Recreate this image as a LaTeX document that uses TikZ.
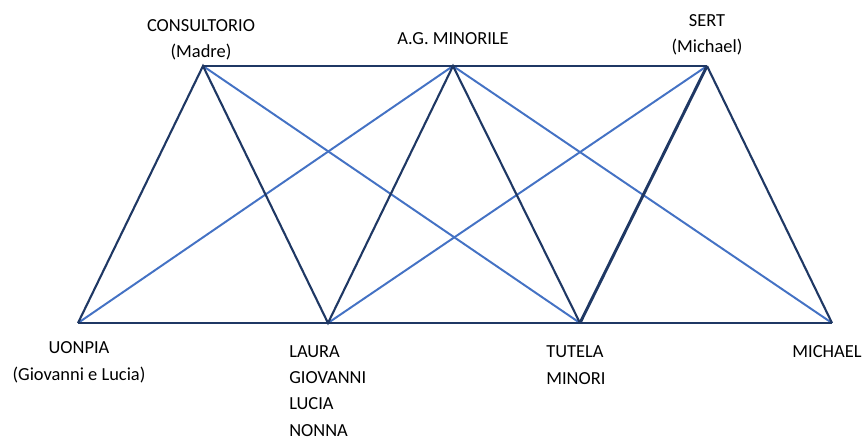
\documentclass[tikz,border=0pt]{standalone}
\usepackage{fontspec}
\setmainfont{Carlito}
\usetikzlibrary{positioning}
\definecolor{navy}{HTML}{1F3864}
\definecolor{sky}{HTML}{4472C4}

\begin{document}
\begin{tikzpicture}[
  x=0.025cm, y=-0.025cm,
  side/.style={line width=1.5pt, color=navy},
  diag/.style={line width=1.4pt, color=sky},
  lbl/.style={font=\fontsize{13.1}{18.6}\selectfont, inner sep=0pt, align=center, anchor=base},
]
\useasboundingbox (0,0) rectangle (863,440);

% services on top, family and offices below
\coordinate (consultorio) at (203,66);
\coordinate (agminorile) at (453,66);
\coordinate (sert) at (707,66);
\coordinate (uonpia) at (78,323);
\coordinate (laura) at (328,323);
\coordinate (tutela) at (580,323);
\coordinate (michael) at (832,323);

% labels sit on the baseline of their last line
\node[lbl] (consultorio-t) at (201,58) {CONSULTORIO\\(Madre)};
\node[lbl] (agminorile-t) at (453,45) {A.G. MINORILE};
\node[lbl] (sert-t) at (707,53) {SERT\\(Michael)};
\node[lbl] (uonpia-t) at (79,380) {UONPIA\\(Giovanni e Lucia)};
\node[lbl, align=left, anchor=base west] (laura-t) at (289,436) {LAURA\\GIOVANNI\\LUCIA\\NONNA};
\node[lbl, align=left, anchor=base west] (tutela-t) at (546,384) {TUTELA\\MINORI};
\node[lbl] (michael-t) at (827,357) {MICHAEL};

% cross links
\draw[diag] (uonpia) -- (agminorile);
\draw[diag] (consultorio) -- (tutela);
\draw[diag] (laura) -- (sert);
\draw[diag] (agminorile) -- (michael);

% frame
\draw[side] (consultorio) -- (agminorile) -- (sert);
\draw[side] (uonpia) -- (michael);
\draw[side] (uonpia) -- (consultorio) -- (laura) -- (agminorile) -- (tutela);
\draw[side, line width=2.1pt] (tutela) -- (sert);
\draw[side] (sert) -- (michael);

\end{tikzpicture}
\end{document}
